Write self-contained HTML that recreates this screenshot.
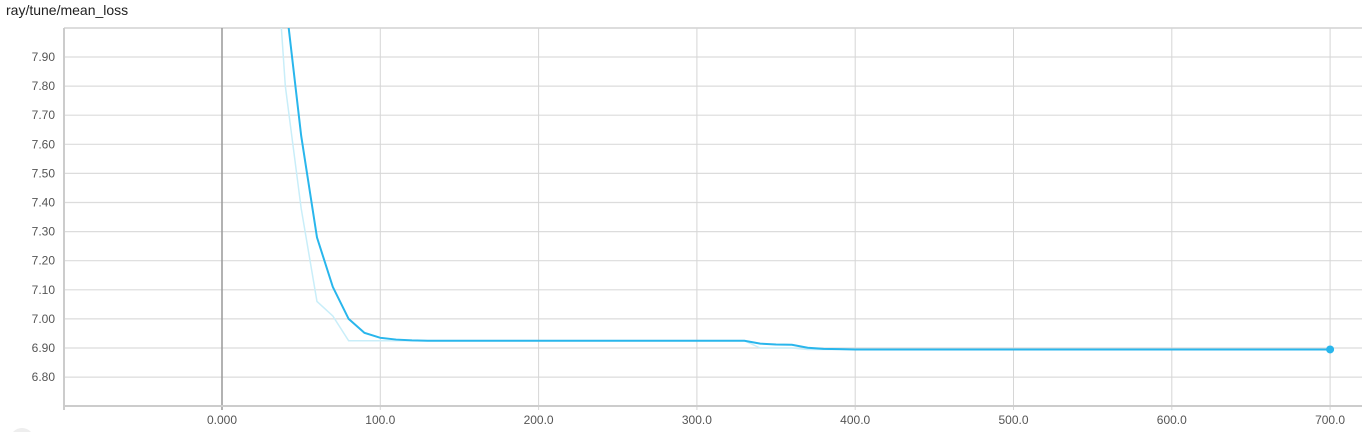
<!DOCTYPE html>
<html><head><meta charset="utf-8"><style>
html,body{margin:0;background:#fff;width:1364px;height:432px;overflow:hidden;font-family:"Liberation Sans",sans-serif}
#title{position:absolute;left:6px;top:2px;font-size:14px;color:#212121}
svg{position:absolute;left:0;top:0;overflow:hidden}
text{font-family:"Liberation Sans",sans-serif;font-size:12px;fill:#555}
</style></head><body>
<div id="title">ray/tune/mean_loss</div>
<svg id="chart" width="1364" height="432"></svg>
<script>
const yTicks=[7.90,7.80,7.70,7.60,7.50,7.40,7.30,7.20,7.10,7.00,6.90,6.80];
const xTicks=[0,100,200,300,400,500,600,700];
const xTickLabels=["0.000","100.0","200.0","300.0","400.0","500.0","600.0","700.0"];
const steps=[30,40,50,60,70,80,90,100,110,120,130,200,300,330,340,350,360,370,380,390,400,500,600,700];
const smoothed=[9.0,8.1,7.63,7.28,7.11,7.0,6.952,6.935,6.929,6.926,6.925,6.925,6.925,6.925,6.915,6.912,6.911,6.901,6.897,6.896,6.895,6.895,6.895,6.895];
const raw=[8.6,7.8,7.38,7.06,7.01,6.925,6.925,6.925,6.925,6.925,6.925,6.925,6.925,6.925,6.9,6.9,6.9,6.895,6.895,6.895,6.895,6.895,6.895,6.895];
const NS="http://www.w3.org/2000/svg";
const svg=document.getElementById('chart');
const L=64,R=1362,T=28,B=406;
const xs=v=>222+v*1.583;
const ys=v=>57+(7.90-v)*291;
function mk(t,a){const e=document.createElementNS(NS,t);for(const k in a)e.setAttribute(k,a[k]);svg.appendChild(e);return e;}
const defs=mk('defs',{});const cp=document.createElementNS(NS,'clipPath');cp.setAttribute('id','c');
const cr=document.createElementNS(NS,'rect');cr.setAttribute('x',L);cr.setAttribute('y',T);cr.setAttribute('width',R-L);cr.setAttribute('height',B-T);cp.appendChild(cr);defs.appendChild(cp);
let e=mk('line',{x1:L,y1:T,x2:R,y2:T,stroke:'#ddd','stroke-width':2});


yTicks.forEach(v=>{
 const g=mk('line',{x1:L,y1:ys(v),x2:R,y2:ys(v),stroke:'#dcdcdc','stroke-width':1.2});
 
 
 const t=mk('text',{x:55,y:ys(v)+4,'text-anchor':'end'});t.textContent=v.toFixed(2);
 
 
});
xTicks.forEach((v,i)=>{
 const g=mk('line',{x1:xs(v),y1:T,x2:xs(v),y2:B+4,stroke:v===0?'#999':'#d6d6d6','stroke-width':v===0?1.5:1});
 
 
 const t=mk('text',{x:xs(v),y:424,'text-anchor':'middle'});t.textContent=xTickLabels[i];
 
 
});
e=mk('line',{x1:L,y1:T,x2:L,y2:B+4,stroke:'#ccc','stroke-width':2});


e=mk('line',{x1:L,y1:B,x2:R,y2:B,stroke:'#ccc','stroke-width':2});


const pr=steps.map((s,i)=>xs(s)+','+ys(raw[i])).join(' ');
e=mk('polyline',{points:pr,fill:'none',stroke:'#c9eef9','stroke-width':1.5,'clip-path':'url(#c)'});


const ps=steps.map((s,i)=>xs(s)+','+ys(smoothed[i])).join(' ');
e=mk('polyline',{points:ps,fill:'none',stroke:'#29b6ec','stroke-width':2,'clip-path':'url(#c)'});


const n=steps.length-1;
e=mk('circle',{cx:xs(steps[n]),cy:ys(smoothed[n]),r:4,fill:'#29b6ec'});


e=mk('circle',{cx:22,cy:440,r:12,fill:'#eee'});


</script>
</body></html>
